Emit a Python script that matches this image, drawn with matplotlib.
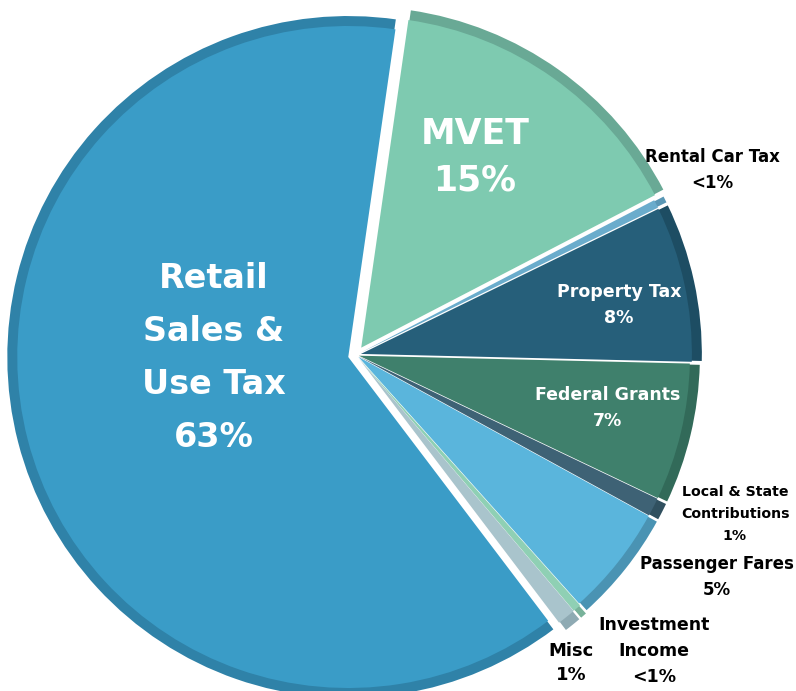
import matplotlib
matplotlib.use("Agg")
import matplotlib.pyplot as plt

categories = ["MVET", "Rental Car Tax", "Property Tax", "Federal Grants",
              "Local & State Contributions", "Passenger Fares",
              "Investment Income", "Misc", "Retail Sales & Use Tax"]
values = [15.1, 0.4, 7.6, 6.7, 0.9, 5.4, 0.4, 0.9, 62.6]
pct_labels = ["15%", "<1%", "8%", "7%", "1%", "5%", "<1%", "1%", "63%"]

face_colors = ["#7ecab0", "#6aaccc", "#265f7a", "#3f806c", "#3e6275",
               "#5ab5dc", "#8fd0b4", "#a9c4cc", "#3a9cc7"]
rim_colors = ["#69a995", "#5a97b5", "#1d4d63", "#326a59", "#30505f",
              "#4a93b3", "#78b29a", "#8eaab3", "#2f82a8"]
# explode offsets in pixels (data units)
explode = [9, 5, 5, 3, 3, 3, 5, 5, 8]

W, H = 796, 691
fig = plt.figure(figsize=(W / 100, H / 100), dpi=100)
ax = fig.add_axes([0, 0, 1, 1])

center = (356, H - 355)
R = 342
common = dict(startangle=81.8, counterclock=False, explode=explode, center=center)
ax.pie(values, colors=rim_colors, radius=R,
       wedgeprops=dict(edgecolor="white", linewidth=1.5), **common)
ax.pie(values, colors=face_colors, radius=R - 11,
       wedgeprops=dict(edgecolor="none", linewidth=0), **common)

ax.set_xlim(0, W)
ax.set_ylim(0, H)
ax.set_aspect("equal")
ax.axis("off")

FONT = "DejaVu Sans"

def label(x, y, s, size, color, ls=1.25):
    ax.text(x, H - y, s, ha="center", va="center", fontsize=size, color=color,
            fontweight="bold", family=FONT, linespacing=ls)

label(214, 358, "Retail\nSales &\nUse Tax\n" + pct_labels[8], 24, "white", ls=1.76)
label(475, 157, "MVET\n" + pct_labels[0], 25, "white", ls=1.45)
label(619, 305, "Property Tax\n" + pct_labels[2], 12.5, "white", ls=1.6)
label(608, 408, "Federal Grants\n" + pct_labels[3], 12.5, "white", ls=1.6)
label(712, 170, "Rental Car Tax\n" + pct_labels[1], 12, "black", ls=1.6)
label(735, 514, "Local & State\nContributions\n" + pct_labels[4], 10.2, "black", ls=1.75)
label(717, 577, "Passenger Fares\n" + pct_labels[5], 12, "black", ls=1.55)
label(654, 651, "Investment\nIncome\n" + pct_labels[6], 12.5, "black", ls=1.55)
label(571, 663, "Misc\n" + pct_labels[7], 13, "black", ls=1.5)

fig.savefig("out.png", dpi=100, facecolor="white")
